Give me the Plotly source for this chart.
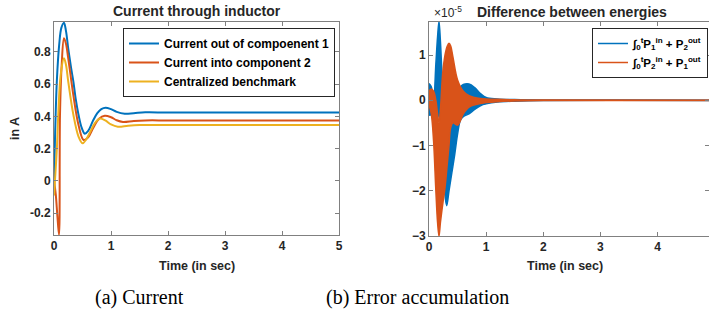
import plotly.graph_objects as go

# ---------------- Data: (a) Current through inductor ----------------
t_blue = [0, 0.02, 0.05, 0.09, 0.13, 0.175, 0.21, 0.25, 0.3, 0.34, 0.38, 0.43, 0.485, 0.54, 0.6,
          0.68, 0.76, 0.83, 0.905, 1.0, 1.1, 1.24, 1.4, 1.6, 2.0, 3.0, 4.0, 5.0]
i_blue = [0.0, 0.3, 0.62, 0.84, 0.95, 0.98, 0.93, 0.82, 0.7, 0.615, 0.51, 0.41, 0.33, 0.293, 0.31,
          0.37, 0.42, 0.445, 0.454, 0.445, 0.428, 0.417, 0.42, 0.425, 0.424, 0.424, 0.424, 0.424]

t_red = [0, 0.03, 0.06, 0.088, 0.105, 0.135, 0.175, 0.21, 0.25, 0.34, 0.43, 0.52, 0.6, 0.69,
         0.79, 0.89, 1.0, 1.1, 1.21, 1.4, 1.6, 2.0, 3.0, 4.0, 5.0]
i_red = [0.0, -0.08, -0.22, -0.334, 0.41, 0.72, 0.885, 0.85, 0.76, 0.53, 0.347, 0.254, 0.27, 0.33,
         0.385, 0.404, 0.395, 0.376, 0.366, 0.372, 0.375, 0.375, 0.375, 0.375, 0.375]

t_yel = [0, 0.05, 0.075, 0.117, 0.175, 0.21, 0.25, 0.34, 0.43, 0.5, 0.56, 0.63, 0.72, 0.8, 0.9,
         1.0, 1.12, 1.3, 1.5, 2.0, 3.0, 4.0, 5.0]
i_yel = [-0.09, 0.2, 0.41, 0.656, 0.76, 0.72, 0.616, 0.41, 0.275, 0.233, 0.255, 0.3, 0.36, 0.386,
         0.375, 0.35, 0.336, 0.342, 0.346, 0.347, 0.347, 0.347, 0.347]

names_a = ["Current out of compoenent 1", "Current into component 2", "Centralized benchmark"]

# ---------------- Data: (b) Difference between energies (x 1e-5), envelopes ----------------
t_e1 = [0, 0.04, 0.08, 0.12, 0.15, 0.175, 0.2, 0.24, 0.28, 0.31, 0.35, 0.4, 0.45, 0.5, 0.55, 0.6,
        0.7, 0.8, 0.9, 1.0, 1.2, 1.5, 2.0, 4.9]
e1_up = [0.37, 0.3, 0.0, 0.8, 1.4, 1.74, 1.3, 0.3, -0.2, -0.3, -0.2, 0.0, 0.1, 0.2, 0.3, 0.35,
         0.36, 0.28, 0.15, 0.06, 0.03, 0.015, 0.005, 0.003]
e1_lo = [-0.33, -0.33, -0.4, -0.5, -0.4, -0.3, -0.5, -1.5, -2.1, -2.33, -2.0, -1.6, -1.2, -0.75,
         -0.44, -0.36, -0.3, -0.2, -0.12, -0.08, -0.04, -0.02, -0.005, -0.003]

t_e2 = [0, 0.04, 0.08, 0.12, 0.15, 0.175, 0.2, 0.24, 0.28, 0.32, 0.35, 0.38, 0.42, 0.5, 0.6, 0.7,
        0.8, 0.9, 1.0, 1.2, 1.5, 2.0, 4.9]
e2_up = [0.2, 0.25, 0.2, 0.0, -0.3, -0.5, -0.2, 0.6, 1.0, 1.2, 1.26, 1.2, 0.95, 0.45, 0.2, 0.1,
         0.06, 0.04, 0.03, 0.02, 0.01, 0.005, 0.003]
e2_lo = [-0.1, -0.3, -0.9, -2.0, -2.7, -3.0, -2.7, -2.3, -1.93, -1.4, -1.0, -0.6, -0.5, -0.55,
         -0.3, -0.15, -0.1, -0.07, -0.05, -0.03, -0.015, -0.005, -0.003]

names_b = ["∫<sub>0</sub><sup>t</sup>P<sub>1</sub><sup>in</sup> + P<sub>2</sub><sup>out</sup>",
           "∫<sub>0</sub><sup>t</sup>P<sub>2</sub><sup>in</sup> + P<sub>1</sub><sup>out</sup>"]

x_ticks_a = [0, 1, 2, 3, 4, 5]
y_ticks_a = [-0.2, 0, 0.2, 0.4, 0.6, 0.8]
y_ticklabels_a = ["-0.2", "0", "0.2", "0.4", "0.6", "0.8"]
x_ticks_b = [0, 1, 2, 3, 4]
y_ticks_b = [-3, -2, -1, 0, 1]

BLUE, RED, YEL = "#0072BD", "#D95319", "#EDB120"
W, H = 709, 323
FONT = "Liberation Sans, Arial, sans-serif"
SERIF = "Liberation Serif, serif"
TXT = "#262626"

fig = go.Figure()
for t, v, c, n in [(t_blue, i_blue, BLUE, names_a[0]), (t_red, i_red, RED, names_a[1]),
                   (t_yel, i_yel, YEL, names_a[2])]:
    fig.add_trace(go.Scatter(x=t, y=v, mode="lines", name=n, line=dict(color=c, width=2, shape="spline"),
                             xaxis="x", yaxis="y", legend="legend"))

for t, up, lo, c, n in [(t_e1, e1_up, e1_lo, BLUE, names_b[0]), (t_e2, e2_up, e2_lo, RED, names_b[1])]:
    fig.add_trace(go.Scatter(x=t, y=up, mode="lines", name=n, line=dict(color=c, width=1.5, shape="spline"),
                             xaxis="x2", yaxis="y2", legend="legend2", legendgroup=n))
    fig.add_trace(go.Scatter(x=t, y=lo, mode="lines", name=n, line=dict(color=c, width=1.5, shape="spline"),
                             fill="tonexty", fillcolor=c, showlegend=False,
                             xaxis="x2", yaxis="y2", legendgroup=n))

axis_common = dict(showline=True, linecolor="#808080", linewidth=1, mirror="ticks", ticks="inside",
                   ticklen=4, tickcolor="#808080", showgrid=False, zeroline=False, automargin=False,
                   tickfont=dict(family=FONT, size=12, color=TXT, weight="bold"))

def px_x(p):
    return p / W

def px_y(p):
    return 1 - p / H

leg_font = dict(family=FONT, size=12, color="black", weight="bold")
fig.update_layout(
    template="none",
    width=W, height=H, margin=dict(l=0, r=0, t=0, b=0, autoexpand=False),
    paper_bgcolor="white", plot_bgcolor="white",
    xaxis=dict(domain=[px_x(54), px_x(339)], range=[0, 5], tickvals=x_ticks_a, anchor="y", **axis_common),
    yaxis=dict(domain=[px_y(235), px_y(22)], range=[-0.335, 0.985], tickvals=y_ticks_a,
               ticktext=y_ticklabels_a, anchor="x", **axis_common),
    xaxis2=dict(domain=[px_x(429), 1.0], range=[0, 4.9], tickvals=x_ticks_b, anchor="y2", **axis_common),
    yaxis2=dict(domain=[px_y(236), px_y(22)], range=[-3.0, 1.73], tickvals=y_ticks_b, anchor="x2",
                **axis_common),
    legend=dict(x=px_x(335), xanchor="right", y=px_y(28), yanchor="top", bgcolor="white",
                bordercolor="#262626", borderwidth=1, itemwidth=30, tracegroupgap=0,
                traceorder="normal", font=leg_font),
    legend2=dict(x=px_x(708), xanchor="right", y=px_y(28), yanchor="top", bgcolor="white",
                 bordercolor="#262626", borderwidth=1, itemwidth=30, tracegroupgap=0,
                 traceorder="normal", font=dict(family=FONT, size=11.5, color="black", weight="bold")),
    showlegend=True,
)

ann = [
    dict(text="<b>Current through inductor</b>", x=px_x(197), y=px_y(11), size=14, fam=FONT),
    dict(text="<b>Difference between energies</b>", x=px_x(572), y=px_y(12), size=14, fam=FONT),
    dict(text="×10<sup>-5</sup>", x=px_x(448), y=px_y(12), size=12, fam=FONT),
    dict(text="<b>Time (in sec)</b>", x=px_x(197), y=px_y(266), size=12.5, fam=FONT),
    dict(text="<b>Time (in sec)</b>", x=px_x(565), y=px_y(266), size=12.5, fam=FONT),
    dict(text="(a) Current", x=px_x(139), y=px_y(297), size=20, fam=SERIF),
    dict(text="(b) Error accumulation", x=px_x(417), y=px_y(297), size=20, fam=SERIF),
]
for a in ann:
    fig.add_annotation(text=a["text"], x=a["x"], y=a["y"], xref="paper", yref="paper",
                       showarrow=False, xanchor="center", yanchor="middle",
                       font=dict(family=a["fam"], size=a["size"], color="black" if a["fam"] == SERIF else TXT))
fig.add_annotation(text="<b>in A</b>", x=px_x(15), y=px_y(128), xref="paper", yref="paper",
                   showarrow=False, textangle=-90, xanchor="center", yanchor="middle",
                   font=dict(family=FONT, size=12.5, color=TXT))

fig.write_html("out.html", config={"displayModeBar": False},
               post_script="document.body.style.margin='0';")
